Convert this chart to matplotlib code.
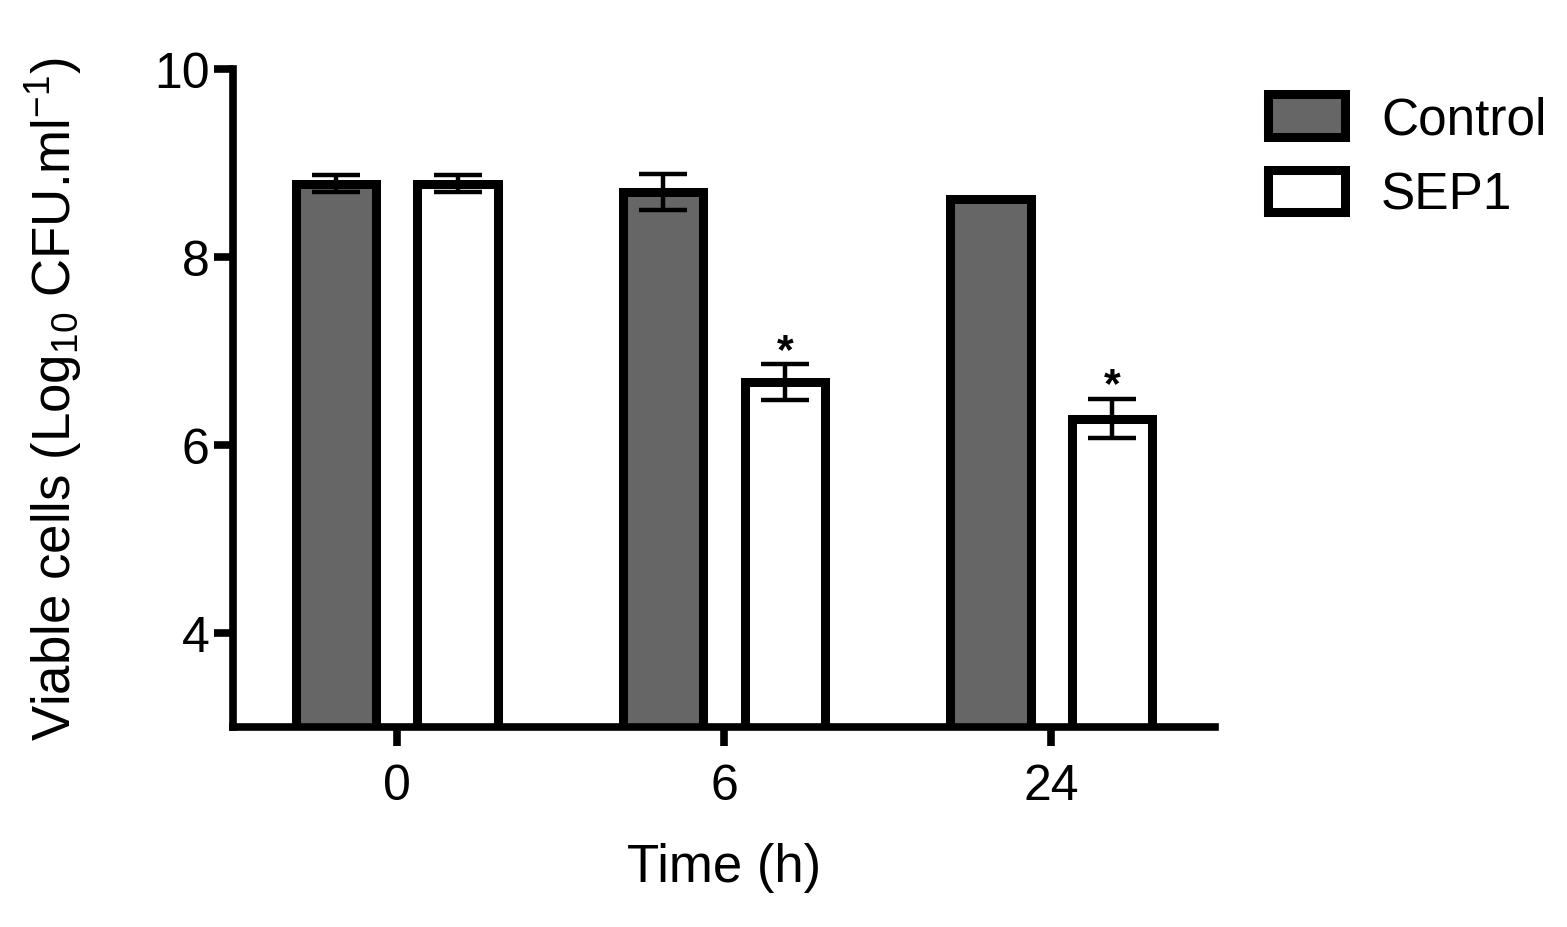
import matplotlib
matplotlib.use('Agg')
import matplotlib.pyplot as plt
import numpy as np

plt.rcParams['font.family'] = ['Liberation Sans', 'DejaVu Sans']
plt.rcParams['mathtext.fontset'] = 'custom'
plt.rcParams['mathtext.rm'] = 'Liberation Sans'
plt.rcParams['mathtext.it'] = 'Liberation Sans'

# data
times = ['0', '6', '24']
control_mean = [8.78, 8.69, 8.62]
control_err = [0.09, 0.19, 0.01]
sep1_mean = [8.78, 6.67, 6.28]
sep1_err = [0.09, 0.19, 0.21]
signif = ['', '*', '*']

x = np.arange(len(times))
w = 0.245
off = 0.186
lw = 6.5

fig = plt.figure(figsize=(15.67, 9.28), dpi=100)
ax = fig.add_axes([0.1487, 0.2155, 0.6267, 0.7091])

ekw = dict(elinewidth=3.2, capthick=3.2, ecolor='black')
ax.bar(x - off, control_mean, w, yerr=control_err, capsize=17,
       color='#666666', edgecolor='black', linewidth=lw, error_kw=ekw,
       label='Control')
ax.bar(x + off, sep1_mean, w, yerr=sep1_err, capsize=17,
       color='white', edgecolor='black', linewidth=lw, error_kw=ekw,
       label='SEP1')

for xi, m, e, s in zip(x, sep1_mean, sep1_err, signif):
    if s:
        ax.text(xi + off, m + e - 0.07, s, ha='center', va='bottom',
                fontsize=31, fontweight='bold')

ax.set_xlim(-0.5, 2.5)
ax.set_ylim(3, 10)
ax.set_yticks([4, 6, 8, 10])
ax.set_xticks(x)
ax.set_xticklabels(times)

for side in ['top', 'right']:
    ax.spines[side].set_visible(False)
for side in ['left', 'bottom']:
    ax.spines[side].set_linewidth(5.5)
ax.tick_params(axis='both', width=5.5, length=14, labelsize=36)
ax.tick_params(axis='y', pad=3)
ax.tick_params(axis='x', pad=12)

ax.set_xlabel('Time (h)', fontsize=38, labelpad=24)
ax.set_ylabel('Viable cells (Log$_{10}$ CFU.ml$^{-1}$)', fontsize=38, labelpad=50)

fig.legend(loc='upper left', bbox_to_anchor=(1268 / 1567, 1 - 95 / 928),
           frameon=False, fontsize=37, handlelength=1.5, handleheight=0.9,
           handletextpad=0.7, labelspacing=0.5, borderpad=0, borderaxespad=0)

fig.savefig('out.png', dpi=100)
